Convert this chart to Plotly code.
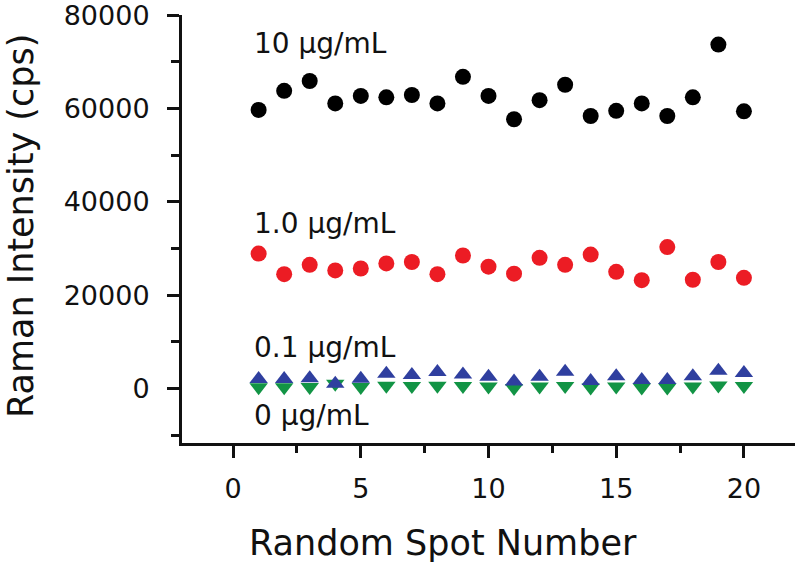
import plotly.graph_objects as go

spots = list(range(1, 21))
int_10 = [59700, 63800, 65900, 61100, 62700, 62400, 62900, 61100, 66800, 62700,
          57700, 61800, 65100, 58400, 59500, 61100, 58400, 62400, 73700, 59400]
int_1 = [28900, 24500, 26500, 25300, 25700, 26800, 27100, 24500, 28500, 26100,
         24600, 28000, 26500, 28700, 25000, 23200, 30300, 23300, 27100, 23700]
int_01 = [2000, 2000, 2200, 1000, 2100, 3150, 2900, 3500, 3000, 2500,
          1500, 2500, 3600, 1600, 2600, 1800, 1800, 2600, 3800, 3300]
int_0 = [250, 250, 300, 1000, 300, 550, 500, 550, 500, 400,
         100, 400, 500, 200, 400, 200, 200, 400, 600, 500]

y_tickvals = [0, 20000, 40000, 60000, 80000]
y_ticktext = ["0", "20000", "40000", "60000", "80000"]
x_tickvals = [0, 5, 10, 15, 20]

labels = ["10 μg/mL", "1.0 μg/mL", "0.1 μg/mL", "0 μg/mL"]
label_y = [74000, 35400, 8700, -5800]

FONT = "DejaVu Sans"
INK = "#111111"

fig = go.Figure()
fig.add_trace(go.Scatter(x=spots, y=int_0, mode="markers",
                         marker=dict(symbol="triangle-down", size=16, color="#129445", line=dict(width=0))))
fig.add_trace(go.Scatter(x=spots, y=int_01, mode="markers",
                         marker=dict(symbol="triangle-up", size=16, color="#2f3f9f", line=dict(width=0))))
fig.add_trace(go.Scatter(x=spots, y=int_1, mode="markers",
                         marker=dict(symbol="circle", size=16, color="#ec1c24", line=dict(width=0))))
fig.add_trace(go.Scatter(x=spots, y=int_10, mode="markers",
                         marker=dict(symbol="circle", size=16, color="#000000", line=dict(width=0))))

for t, yy in zip(labels, label_y):
    fig.add_annotation(x=0.73, y=yy, xref="x", yref="y", text=t, showarrow=False,
                       xanchor="left", yanchor="middle",
                       font=dict(family=FONT, size=28, color=INK))

# axis titles as annotations (positioned like the reference)
fig.add_annotation(x=0.426, y=-0.2326, xref="paper", yref="paper", text="Random Spot Number",
                   showarrow=False, xanchor="center", yanchor="middle",
                   font=dict(family=FONT, size=35, color=INK))
fig.add_annotation(x=-0.2626, y=0.507, xref="paper", yref="paper", text="Raman Intensity (cps)",
                   showarrow=False, xanchor="center", yanchor="middle", textangle=-90,
                   font=dict(family=FONT, size=35, color=INK))

fig.update_layout(
    width=800, height=564,
    margin=dict(l=182, r=5, t=15, b=121),
    paper_bgcolor="white", plot_bgcolor="white",
    showlegend=False,
    font=dict(family=FONT, color=INK),
)
fig.update_xaxes(
    range=[-2, 22], tickmode="array", tickvals=x_tickvals,
    ticks="outside", ticklen=12, tickwidth=3, tickcolor=INK,
    minor=dict(tickvals=[2.5, 7.5, 12.5, 17.5], ticks="outside", ticklen=7, tickwidth=3, tickcolor=INK),
    showline=True, linewidth=3, linecolor=INK, showgrid=False, zeroline=False,
    tickfont=dict(family=FONT, size=27, color=INK), ticklabelstandoff=8, automargin=False,
    ticklabeloverflow="allow",
)
fig.update_yaxes(
    range=[-11700, 80050], tickmode="array", tickvals=y_tickvals, ticktext=y_ticktext,
    ticks="outside", ticklen=12, tickwidth=3, tickcolor=INK,
    minor=dict(tickvals=[-10000, 10000, 30000, 50000, 70000], ticks="outside", ticklen=8, tickwidth=3, tickcolor=INK),
    showline=True, linewidth=3, linecolor=INK, showgrid=False, zeroline=False,
    tickfont=dict(family=FONT, size=27, color=INK), ticklabelstandoff=12, automargin=False,
    ticklabeloverflow="allow",
)

fig.write_html("out.html", config={"displayModeBar": False},
               post_script="document.body.style.margin='0px';")
